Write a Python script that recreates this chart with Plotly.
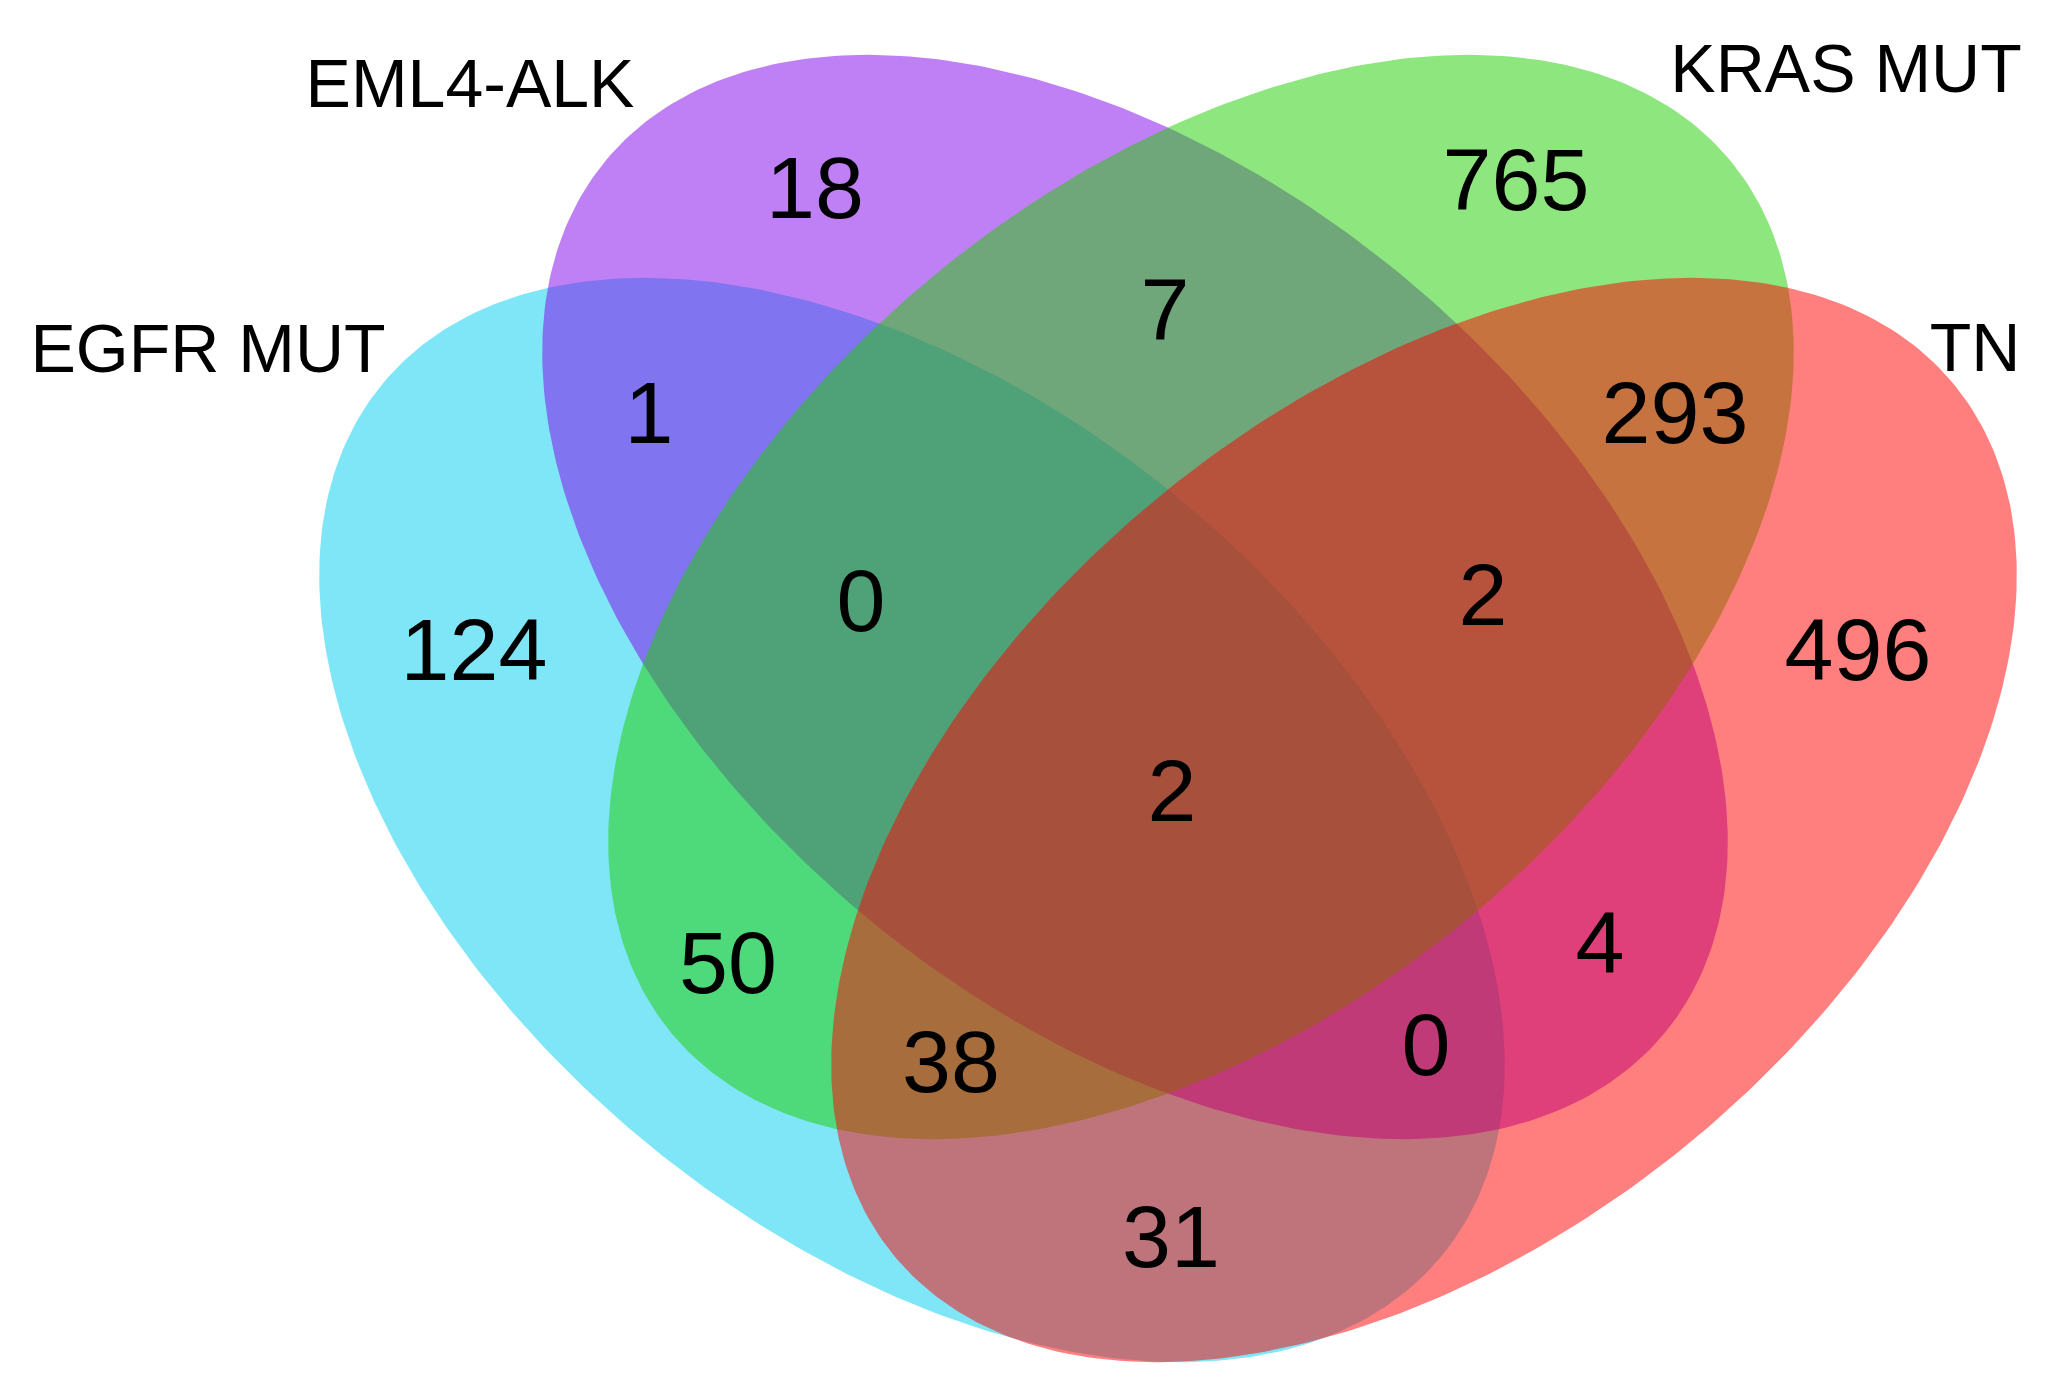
import numpy as np
import plotly.graph_objects as go

# ---- data ----
set_names = ["EGFR MUT", "EML4-ALK", "KRAS MUT", "TN"]
region_counts = [124, 18, 765, 496, 1, 7, 293, 50, 0, 31, 4, 0, 2, 38, 2]
region_names = ["EGFR", "EML4", "KRAS", "TN", "EGFR&EML4", "EML4&KRAS", "KRAS&TN",
                "EGFR&KRAS", "EGFR&EML4&KRAS", "EGFR&TN", "EML4&TN", "EGFR&EML4&TN",
                "EML4&KRAS&TN", "EGFR&KRAS&TN", "ALL"]

# ---- layout (page pixel coordinates, y downward) ----
W, H = 2066, 1397
PAGE_MARGIN = 8  # default browser body margin
set_colors = ["rgba(0,205,239,0.5)", "rgba(129,1,235,0.5)",
              "rgba(29,205,0,0.5)", "rgba(255,0,0,0.5)"]
ell_centers = [(912, 820), (1135, 597), (1201, 597), (1424, 820)]
ell_angles = [39.4, 39.4, 180 - 39.4, 180 - 39.4]
ell_a, ell_b = 686, 418

count_pos = [(474, 658), (815, 196), (1516, 188), (1858, 658), (649, 421), (1165, 318),
             (1675, 421), (728, 971), (861, 609), (1171, 1245), (1600, 951), (1426, 1053),
             (1483, 603), (951, 1070), (1172, 799)]
name_pos = [(208, 355), (470, 90), (1846, 75), (1975, 354)]

fig = go.Figure()

t = np.linspace(0, 2 * np.pi, 400)
for (cx, cy), ang, col, nm in zip(ell_centers, ell_angles, set_colors, set_names):
    th = np.deg2rad(ang)
    c, s = np.cos(th), np.sin(th)
    xs = cx + ell_a * np.cos(t) * c - ell_b * np.sin(t) * s
    ys = cy + ell_a * np.cos(t) * s + ell_b * np.sin(t) * c
    fig.add_trace(go.Scatter(x=xs, y=ys, mode="lines", fill="toself",
                             fillcolor=col, line=dict(width=0), name=nm,
                             hoverinfo="skip", showlegend=False))

fig.add_trace(go.Scatter(
    x=[p[0] for p in count_pos], y=[p[1] for p in count_pos],
    mode="text", text=[str(v) for v in region_counts],
    textfont=dict(family="Liberation Sans, Arial, sans-serif", size=88, color="#000000"),
    textposition="middle center", hovertext=region_names, showlegend=False))

fig.add_trace(go.Scatter(
    x=[p[0] for p in name_pos], y=[p[1] for p in name_pos],
    mode="text", text=set_names,
    textfont=dict(family="Liberation Sans, Arial, sans-serif", size=68, color="#000000"),
    textposition="middle center", showlegend=False))

fw, fh = W - 2 * PAGE_MARGIN, H - 2 * PAGE_MARGIN
fig.update_layout(
    width=fw, height=fh, margin=dict(l=0, r=0, t=0, b=0),
    paper_bgcolor="white", plot_bgcolor="white",
    xaxis=dict(range=[PAGE_MARGIN, PAGE_MARGIN + fw], visible=False, fixedrange=True),
    yaxis=dict(range=[PAGE_MARGIN + fh, PAGE_MARGIN], visible=False, fixedrange=True),
)

fig.write_html("out.html")
